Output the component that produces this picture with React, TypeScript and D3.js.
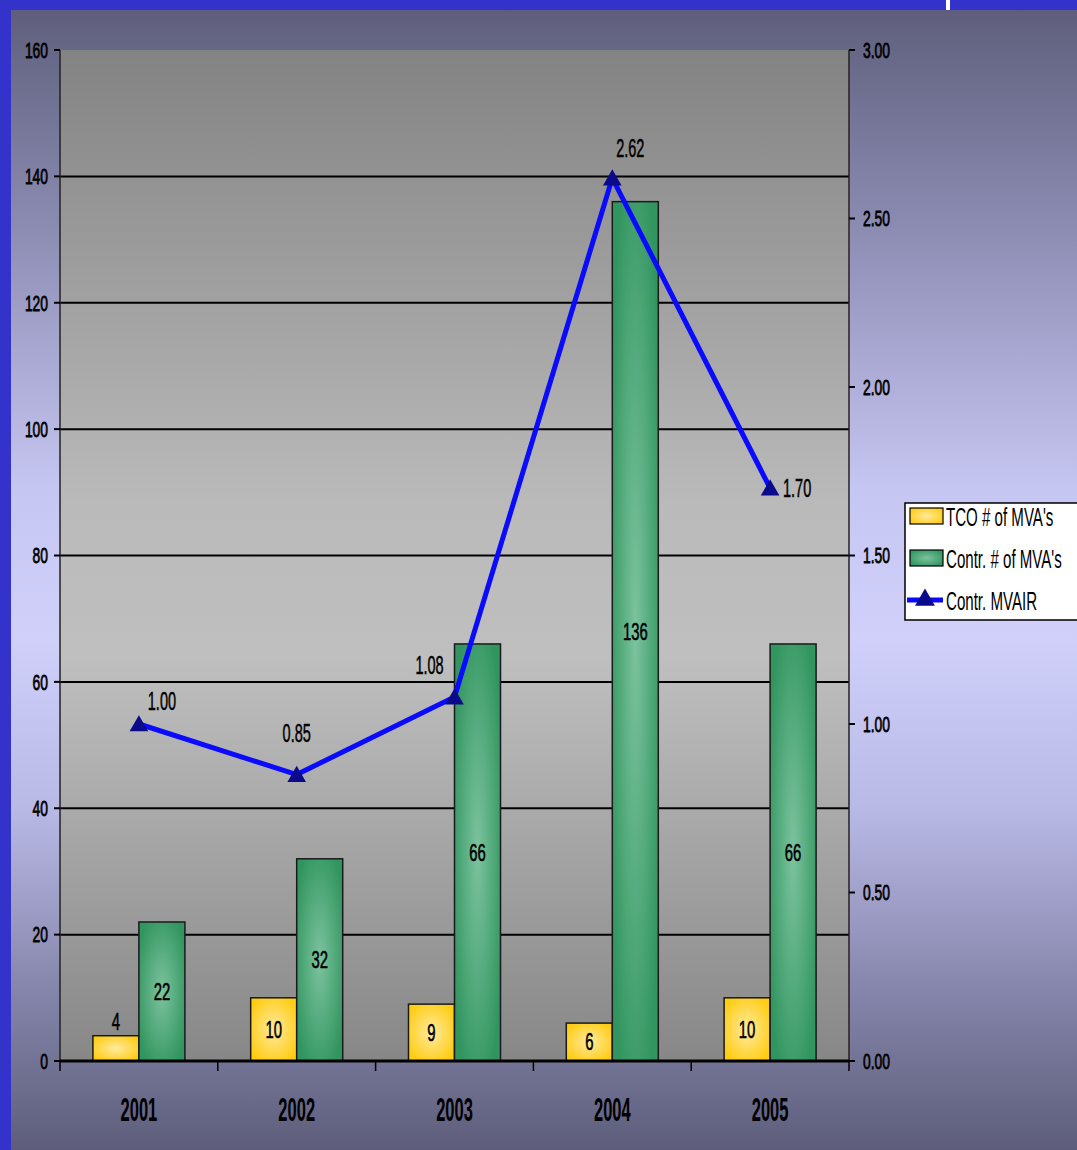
import { useEffect, useRef } from 'react';
import * as d3 from 'd3';

const years = ['2001', '2002', '2003', '2004', '2005'];
const tcoMva = [4, 10, 9, 6, 10];
const contrMva = [22, 32, 66, 136, 66];
const contrMvair = [1.0, 0.85, 1.08, 2.62, 1.7];
const leftTicks = [0, 20, 40, 60, 80, 100, 120, 140, 160];
const rightTicks = [0, 0.5, 1.0, 1.5, 2.0, 2.5, 3.0];
const seriesNames = ["TCO # of MVA's", "Contr. # of MVA's", 'Contr. MVAIR'];

// label offsets for the line values (dx, dy from the point)
const lineLabelOffsets: [number, number][] = [
  [23, -14],
  [0, -33],
  [-25, -23],
  [18, -21],
  [27, 9],
];

const W = 1077;
const H = 1150;
const FONT = "'Liberation Sans', Arial, sans-serif";

type TextOpts = {
  size: number;
  sx: number;
  weight?: string;
  anchor?: string;
  baseline?: string;
  heavy?: number;
};

// the source uses a very narrow face, so squeeze a regular one horizontally
function addText(
  parent: d3.Selection<any, any, any, any>,
  x: number,
  y: number,
  txt: string,
  { size, sx, weight = 'normal', anchor = 'middle', baseline = 'central', heavy = 0 }: TextOpts
) {
  return parent
    .append('text')
    .attr('transform', `translate(${x},${y}) scale(${sx},1)`)
    .attr('text-anchor', anchor)
    .attr('dominant-baseline', baseline)
    .style('font-family', FONT)
    .style('font-size', `${size}px`)
    .style('font-weight', weight)
    .style('fill', '#000')
    .style('stroke', heavy ? '#000' : 'none')
    .style('stroke-width', heavy)
    .text(txt);
}

export default function App() {
  const svgRef = useRef<SVGSVGElement>(null);

  useEffect(() => {
    if (!svgRef.current) return;
    const svg = d3.select(svgRef.current);
    svg.selectAll('*').remove();

    const margin = { top: 50, right: 228, bottom: 89, left: 60 };
    const plotW = W - margin.left - margin.right;
    const plotH = H - margin.top - margin.bottom;

    const defs = svg.append('defs');

    // outer page gradient
    const bg = defs
      .append('linearGradient')
      .attr('id', 'bgGrad')
      .attr('x1', 0)
      .attr('y1', 0)
      .attr('x2', 0)
      .attr('y2', 1);
    [
      [0, '#5e5e7c'],
      [0.22, '#9393bb'],
      [0.42, '#c6c6f2'],
      [0.55, '#d0d0fb'],
      [0.7, '#b9b9e6'],
      [0.86, '#8585ab'],
      [1, '#5d5d7b'],
    ].forEach(([o, c]) => bg.append('stop').attr('offset', o as number).attr('stop-color', c as string));

    // plot area gradient
    const pg = defs
      .append('linearGradient')
      .attr('id', 'plotGrad')
      .attr('x1', 0)
      .attr('y1', 0)
      .attr('x2', 0)
      .attr('y2', 1);
    [
      [0, '#838383'],
      [0.45, '#bababa'],
      [0.6, '#bfbfbf'],
      [1, '#878787'],
    ].forEach(([o, c]) => pg.append('stop').attr('offset', o as number).attr('stop-color', c as string));

    const yellow = defs
      .append('radialGradient')
      .attr('id', 'yellowGrad')
      .attr('cx', 0.5)
      .attr('cy', 0.5)
      .attr('r', 0.6);
    yellow.append('stop').attr('offset', 0).attr('stop-color', '#ffeaa0');
    yellow.append('stop').attr('offset', 1).attr('stop-color', '#ffcc10');

    const green = defs
      .append('radialGradient')
      .attr('id', 'greenGrad')
      .attr('cx', 0.5)
      .attr('cy', 0.5)
      .attr('r', 0.6);
    green.append('stop').attr('offset', 0).attr('stop-color', '#7cc39e');
    green.append('stop').attr('offset', 1).attr('stop-color', '#31955f');

    // page background
    svg.append('rect').attr('width', W).attr('height', H).attr('fill', '#3333cc');
    svg.append('rect').attr('x', 11).attr('y', 10).attr('width', W - 11).attr('height', H - 10).attr('fill', 'url(#bgGrad)');
    svg.append('rect').attr('x', 946).attr('y', 0).attr('width', 4).attr('height', 10).attr('fill', '#ffffff');

    const g = svg.append('g').attr('transform', `translate(${margin.left},${margin.top})`);

    g.append('rect').attr('width', plotW).attr('height', plotH).attr('fill', 'url(#plotGrad)');

    const x0 = d3.scaleBand<string>().domain(years).range([0, plotW]).paddingInner(0).paddingOuter(0);
    const x1 = d3
      .scaleBand<string>()
      .domain(['tco', 'contr'])
      .range([0, x0.bandwidth()])
      .paddingInner(0)
      .paddingOuter(0.715);
    const yL = d3.scaleLinear().domain([0, 160]).range([plotH, 0]);
    const yR = d3.scaleLinear().domain([0, 3]).range([plotH, 0]);

    // gridlines
    g.selectAll('.grid')
      .data(leftTicks.filter((t) => t > 0 && t < 160))
      .join('line')
      .attr('x1', 0)
      .attr('x2', plotW)
      .attr('y1', (d) => yL(d))
      .attr('y2', (d) => yL(d))
      .attr('stroke', '#000')
      .attr('stroke-width', 2);

    // bars
    const groups = g
      .selectAll('.grp')
      .data(years)
      .join('g')
      .attr('transform', (d) => `translate(${x0(d)},0)`);

    groups
      .append('rect')
      .attr('x', x1('tco')!)
      .attr('y', (_, i) => yL(tcoMva[i]))
      .attr('width', x1.bandwidth())
      .attr('height', (_, i) => plotH - yL(tcoMva[i]))
      .attr('fill', 'url(#yellowGrad)')
      .attr('stroke', '#1a1a1a')
      .attr('stroke-width', 1.5);

    groups
      .append('rect')
      .attr('x', x1('contr')!)
      .attr('y', (_, i) => yL(contrMva[i]))
      .attr('width', x1.bandwidth())
      .attr('height', (_, i) => plotH - yL(contrMva[i]))
      .attr('fill', 'url(#greenGrad)')
      .attr('stroke', '#1a1a1a')
      .attr('stroke-width', 1.5);

    groups.each(function (_, i) {
      const grp = d3.select(this);
      const hT = plotH - yL(tcoMva[i]);
      addText(
        grp,
        x1('tco')! + x1.bandwidth() / 2,
        hT < 30 ? yL(tcoMva[i]) - 14 : yL(tcoMva[i]) + hT / 2,
        String(tcoMva[i]),
        { size: 24, sx: 0.62, heavy: 0.6 }
      );
      const hC = plotH - yL(contrMva[i]);
      addText(grp, x1('contr')! + x1.bandwidth() / 2, yL(contrMva[i]) + hC / 2, String(contrMva[i]), {
        size: 24,
        sx: 0.62,
        heavy: 0.6,
      });
    });

    // axes lines
    g.append('line').attr('x1', 0).attr('x2', 0).attr('y1', 0).attr('y2', plotH).attr('stroke', '#222').attr('stroke-width', 1.5);
    g.append('line').attr('x1', plotW).attr('x2', plotW).attr('y1', 0).attr('y2', plotH).attr('stroke', '#222').attr('stroke-width', 1.5);
    g.append('line').attr('x1', 0).attr('x2', plotW).attr('y1', plotH).attr('y2', plotH).attr('stroke', '#000').attr('stroke-width', 3);

    // left ticks
    leftTicks.forEach((t) => {
      g.append('line').attr('x1', -6).attr('x2', 0).attr('y1', yL(t)).attr('y2', yL(t)).attr('stroke', '#000').attr('stroke-width', 2);
      addText(g, -12, yL(t), String(t), { size: 22, sx: 0.63, anchor: 'end', heavy: 0.8 });
    });

    // right ticks
    rightTicks.forEach((t) => {
      g.append('line').attr('x1', plotW).attr('x2', plotW + 6).attr('y1', yR(t)).attr('y2', yR(t)).attr('stroke', '#000').attr('stroke-width', 2);
      addText(g, plotW + 14, yR(t), t.toFixed(2), { size: 22, sx: 0.63, anchor: 'start', heavy: 0.8 });
    });

    // bottom ticks at category boundaries
    const bounds = years.map((y) => x0(y)!).concat([plotW]);
    bounds.forEach((b) => {
      g.append('line').attr('x1', b).attr('x2', b).attr('y1', plotH).attr('y2', plotH + 10).attr('stroke', '#000').attr('stroke-width', 1.5);
    });

    years.forEach((yr) => {
      addText(g, x0(yr)! + x0.bandwidth() / 2, plotH + 60, yr, {
        size: 33,
        sx: 0.5,
        weight: 'bold',
        baseline: 'auto',
      });
    });

    // line series
    const cx = (i: number) => x0(years[i])! + x0.bandwidth() / 2;
    const line = d3
      .line<number>()
      .x((_, i) => cx(i))
      .y((d) => yR(d));

    g.append('path')
      .datum(contrMvair)
      .attr('fill', 'none')
      .attr('stroke', '#0a0aff')
      .attr('stroke-width', 5)
      .attr('d', line);

    const tri = d3.symbol().type(d3.symbolTriangle).size(150);
    g.selectAll('.mk')
      .data(contrMvair)
      .join('path')
      .attr('d', tri)
      .attr('transform', (d, i) => `translate(${cx(i)},${yR(d) + 2})`)
      .attr('fill', '#0a0a8a');

    contrMvair.forEach((v, i) => {
      addText(g, cx(i) + lineLabelOffsets[i][0], yR(v) + lineLabelOffsets[i][1], v.toFixed(2), {
        size: 25,
        sx: 0.58,
        baseline: 'auto',
        heavy: 0.5,
      });
    });

    // legend
    const legend = svg.append('g').attr('transform', 'translate(905,503)');
    legend.append('rect').attr('width', 180).attr('height', 117).attr('fill', '#fff').attr('stroke', '#000').attr('stroke-width', 1.5);

    const rowY = [13, 55, 97];
    legend.append('rect').attr('x', 5).attr('y', rowY[0] - 8).attr('width', 33).attr('height', 16).attr('fill', 'url(#yellowGrad)').attr('stroke', '#000').attr('stroke-width', 1.2);
    legend.append('rect').attr('x', 5).attr('y', rowY[1] - 8).attr('width', 33).attr('height', 16).attr('fill', 'url(#greenGrad)').attr('stroke', '#000').attr('stroke-width', 1.2);
    legend.append('line').attr('x1', 2).attr('x2', 38).attr('y1', rowY[2]).attr('y2', rowY[2]).attr('stroke', '#0a0aff').attr('stroke-width', 5);
    legend.append('path').attr('d', d3.symbol().type(d3.symbolTriangle).size(170)).attr('transform', `translate(20,${rowY[2]})`).attr('fill', '#0a0a8a');

    seriesNames.forEach((name, i) => {
      addText(legend, 41, rowY[i] + 1, name, { size: 26, sx: 0.58, anchor: 'start' });
    });
  }, []);

  return (
    <svg
      ref={svgRef}
      width={W}
      height={H}
      style={{ position: 'absolute', left: 0, top: 0, display: 'block' }}
    />
  );
}
